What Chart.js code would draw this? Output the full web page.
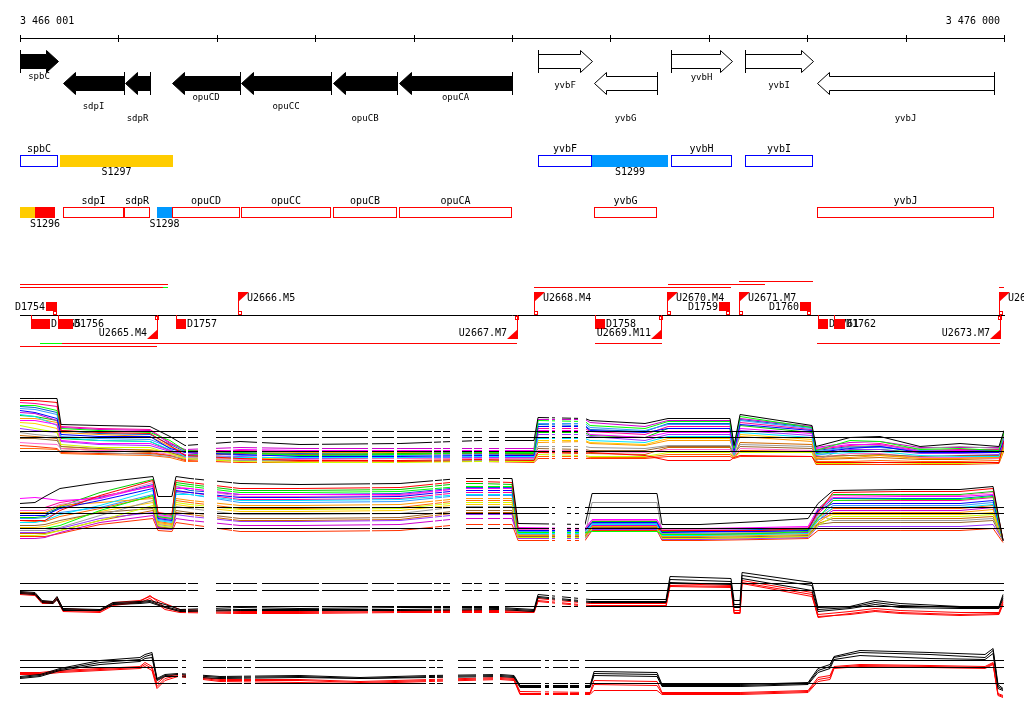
<!DOCTYPE html>
<html><head><meta charset="utf-8">
<script src="https://cdn.jsdelivr.net/npm/chart.js@4.4.0/dist/chart.umd.min.js"></script>
<style>
html,body{margin:0;padding:0;background:#fff;width:1024px;height:714px;overflow:hidden;}
canvas{position:absolute;left:0;}
</style></head><body>
<canvas id="track" width="1024" height="360" style="top:0"></canvas>
<canvas id="pA" width="1024" height="84" style="top:388px"></canvas>
<canvas id="pB" width="1024" height="76" style="top:472px"></canvas>
<canvas id="pC" width="1024" height="60" style="top:565px"></canvas>
<canvas id="pD" width="1024" height="60" style="top:640px"></canvas>
<script>
// ---------- genome window ----------
const X0 = 3466001, X1 = 3476000;
const rulerTicks = [3466001,3467000,3468000,3469000,3470000,3471000,3472000,3473000,3474000,3475000,3476000];
const rulerLabels = ['3 466 001','3 476 000'];

// ---------- genes ----------
const geneNames  = ['spbC','sdpI','sdpR','opuCD','opuCC','opuCB','opuCA','yvbF','yvbG','yvbH','yvbI','yvbJ'];
const geneStart  = [3466001,3466438,3467068,3467545,3468247,3469182,3469852,3471265,3471834,3472616,3473368,3474100];
const geneEnd    = [3466387,3467058,3467322,3468237,3469161,3469832,3471001,3471814,3472474,3473236,3474059,3475899];
const geneStrand = ['+','-','-','-','-','-','-','+','-','+','+','-'];
const geneKnown  = [true,true,true,true,true,true,true,false,false,false,false,false];

// ---------- annotated regions ----------
const annotNames = ['spbC','S1297','yvbF','S1299','yvbH','yvbI','','S1296','sdpI','sdpR','S1298','opuCD','opuCC','opuCB','opuCA','yvbG','yvbJ'];
const annotStart = [3466001,3466407,3471265,3471814,3472616,3473368,3466001,3466153,3466438,3467058,3467393,3467545,3468247,3469182,3469852,3471834,3474100];
const annotEnd   = [3466387,3467556,3471814,3472586,3473236,3474059,3466153,3466357,3467058,3467322,3467545,3468237,3469161,3469832,3471001,3472474,3475899];
const annotKind  = ['gene','orange','gene','blue','gene','gene','orange','red','gene','gene','blue','gene','gene','gene','gene','gene','gene'];
const annotStrand= ['+','+','+','+','+','+','-','-','-','-','-','-','-','-','-','-','-'];

// ---------- transcription units ----------
const tuUpNames  = ['U2666.M5','U2668.M4','U2670.M4','U2671.M7','U2672.M4'];
const tuUpPos    = [3468216,3471224,3472576,3473308,3475949];
const tuDownNames= ['U2665.M4','U2667.M7','U2669.M11','U2673.M7'];
const tuDownPos  = [3467393,3471052,3472515,3475960];
const dNames  = ['D1754','D1759','D1760','D1755','D1756','D1757','D1758','D1761','D1762'];
const dStart  = [3466265,3473104,3473927,3466113,3466387,3467586,3471844,3474110,3474273];
const dEnd    = [3466377,3473216,3474039,3466306,3466540,3467688,3471946,3474212,3474385];
const dStrand = ['+','+','+','-','-','-','-','-','-'];
const spanStart = [3466001,3466001,3467454,3471224,3472586,3473308,3475949,3466204,3466428,3466001,3471844,3474100];
const spanEnd   = [3467505,3467454,3467505,3473226,3473572,3474059,3476000,3466428,3471052,3467393,3472525,3475960];
const spanTier  = [2,1,1,1,2,3,1,-1,-1,-2,-1,-1];
const spanKind  = ['r','r','g','r','r','r','r','g','r','r','r','r'];

// ---------- expression profiles ----------
const probesA = [[3466001,3467678],[3467708,3467800],[3467993,3468135],[3468165,3468399],[3468460,3469029],[3469070,3469527],[3469578,3469791],[3469832,3470178],[3470208,3470269],[3470300,3470361],[3470493,3470584],[3470615,3470686],[3470767,3470858],[3470930,3471366],[3471407,3471427],[3471509,3471590],[3471631,3471661],[3471753,3476000]];
const probesB = [[3466001,3467759],[3467779,3467860],[3468003,3468145],[3468165,3469547],[3469578,3470188],[3470218,3470279],[3470300,3470361],[3470533,3470696],[3470757,3470869],[3470909,3471366],[3471407,3471427],[3471559,3471590],[3471641,3471671],[3471743,3476000]];
const probesD = [[3466001,3467596],[3467647,3467678],[3467860,3468084],[3468104,3468247],[3468277,3468338],[3468389,3470117],[3470157,3470208],[3470239,3470290],[3470452,3470625],[3470706,3470797],[3470879,3471285],[3471336,3471366],[3471417,3471559],[3471590,3471671],[3471743,3476000]];

const refA = [8.2,7.0,4.2];
const refB = [8.2,7.0,4.0];
const refC = [8.4,7.0,3.8];
const refD = [8.0,6.6,3.4];

const xA = [3466001,3466153,3466377,3466418,3466804,3467322,3467525,3467678,3468237,3468846,3469863,3470676,3471224,3471265,3471743,3471794,3472352,3472586,3473216,3473257,3473318,3474049,3474090,3474435,3474740,3475147,3475553,3475949,3476000];
const aBlack  = [14.8,14.8,14.8,9.6,9.4,9.2,7.2,5.4,6.2,5.6,5.8,6.4,6.4,11.0,10.8,10.4,9.8,10.8,10.8,5.4,11.6,9.4,5.2,7.0,7.2,5.2,5.8,5.2,8.4];
const aRed    = [14.4,14.4,14.0,8.4,8.0,7.8,5.4,3.4,2.8,2.4,2.4,2.6,2.4,4.0,3.8,4.0,3.4,2.4,2.4,3.0,3.4,3.2,2.0,2.0,2.0,2.0,2.0,2.0,6.4];
const aLime   = [13.4,13.4,12.4,8.8,8.4,8.0,6.4,4.4,4.0,3.4,3.6,4.0,4.0,10.4,10.2,9.4,8.8,10.2,10.2,4.8,11.2,9.0,4.4,6.4,6.2,4.6,4.8,4.4,8.0];
const aBlue   = [12.4,12.0,10.8,7.6,7.2,7.2,4.8,4.0,3.6,3.2,3.2,3.4,3.4,9.2,9.2,8.4,8.0,8.8,8.8,4.4,9.6,8.4,4.0,4.8,5.2,4.0,4.0,4.0,6.4];
const aMagenta= [10.4,10.4,9.6,6.4,5.8,5.8,4.4,3.6,4.6,4.4,4.4,4.4,4.4,8.4,8.4,7.6,7.0,8.0,8.0,4.0,8.8,7.8,4.8,5.6,5.6,4.2,4.4,4.2,6.0];
const aCyan   = [11.6,11.2,9.4,7.0,6.4,6.2,4.6,3.2,3.0,3.0,3.0,3.2,3.2,6.8,6.8,6.4,6.0,7.2,7.2,3.6,8.0,7.0,3.6,4.0,4.2,3.4,3.2,3.2,5.6];
const aOrange = [10.8,10.8,10.0,8.0,7.6,7.2,5.2,4.0,4.2,4.0,4.0,4.2,4.0,6.0,6.2,5.8,5.4,6.4,6.4,4.4,7.2,6.2,2.8,3.0,3.4,2.8,2.8,3.0,5.2];
const aChart  = [9.4,8.8,8.0,5.6,5.0,5.0,3.8,2.8,2.2,2.0,2.0,2.2,2.2,3.6,3.4,3.2,3.2,4.0,4.0,3.0,4.0,4.0,1.8,1.8,2.0,1.8,1.8,2.0,4.8];
const aGray   = [8.0,7.6,7.2,4.4,4.0,3.6,3.2,2.8,2.4,2.4,2.4,2.4,2.6,5.2,5.2,5.0,4.8,5.4,5.4,3.4,5.6,5.2,2.4,5.2,5.4,4.8,5.2,4.8,6.0];
const aBrown  = [6.8,6.8,6.4,5.2,4.8,4.4,4.0,3.2,3.8,3.6,3.6,3.8,3.6,4.8,4.6,4.4,4.4,5.2,5.2,3.8,5.2,4.8,3.2,3.4,3.6,3.2,3.4,3.4,5.4];
const aSky    = [12.8,12.6,11.6,7.2,6.8,6.6,5.0,4.2,3.4,3.4,3.4,3.6,3.6,9.8,9.8,9.0,8.4,9.6,9.6,4.6,10.4,8.8,4.2,5.0,5.0,4.4,4.2,4.2,6.8];
const aPurple = [8.8,8.4,8.0,6.2,5.6,5.4,4.2,3.4,3.2,2.8,3.0,3.0,3.0,7.6,7.6,7.2,6.4,7.6,7.6,4.2,8.4,7.4,3.4,4.6,4.6,3.8,3.8,3.6,6.2];
const aPink   = [6.0,5.8,5.6,4.8,4.4,4.2,3.6,3.0,2.6,2.6,2.8,2.8,2.8,4.4,4.4,4.2,4.0,4.6,4.6,3.2,4.8,4.4,2.8,3.8,3.8,3.0,3.0,2.8,5.0];
const aViolet = [12.0,11.8,10.4,9.0,8.6,8.4,5.8,4.6,5.0,4.8,4.8,4.8,4.8,10.6,10.6,10.0,9.2,10.4,10.4,5.2,10.8,9.2,5.0,6.0,6.2,5.0,5.0,5.0,7.6];
const aScarlet= [5.4,5.2,4.8,4.0,3.8,3.8,3.4,2.4,2.0,2.0,2.2,2.2,2.0,2.8,2.8,2.8,2.8,3.2,3.2,2.8,3.2,3.2,1.6,1.6,1.6,1.6,1.6,1.8,4.4];
const aGreen  = [11.4,11.2,10.4,6.8,6.4,6.2,4.4,3.6,3.8,3.6,3.8,3.8,3.8,8.0,8.0,7.4,7.0,8.8,8.8,4.2,9.4,8.0,3.8,4.4,4.6,4.0,4.0,4.0,6.4];
const aRose   = [14.0,13.8,13.2,9.2,8.8,8.6,6.0,4.4,4.4,4.2,4.2,4.4,4.2,8.8,8.8,8.2,7.6,9.2,9.2,5.0,10.0,8.6,4.6,5.4,5.8,4.4,4.6,4.6,7.2];
const aGold   = [10.0,9.8,8.8,5.2,4.6,4.6,4.0,3.0,2.8,2.8,2.8,3.0,3.0,6.4,6.4,6.0,5.6,6.8,6.8,3.4,7.6,6.6,3.0,3.4,3.4,3.0,3.0,3.0,5.6];
const aNavy   = [13.2,13.0,12.0,8.4,7.8,7.6,5.6,4.2,4.0,3.8,4.0,4.0,4.0,9.6,9.4,8.6,8.2,9.8,9.8,4.8,10.6,9.0,4.4,5.2,5.2,4.2,4.4,4.4,7.0];
const aTan    = [7.4,7.2,6.8,4.8,4.4,4.0,3.4,2.6,3.0,3.0,3.0,2.8,2.8,4.0,4.0,3.8,3.6,5.0,5.0,3.2,6.0,5.6,2.6,2.8,3.0,2.6,2.6,2.8,5.2];
const aEmber  = [4.8,4.8,4.6,3.8,3.6,3.4,3.0,2.2,2.4,2.2,2.4,2.4,2.4,3.2,3.2,3.0,3.0,3.6,3.6,3.0,4.4,4.2,2.2,2.2,2.4,2.2,2.2,2.4,4.6];

const xB = [3466001,3466153,3466255,3466407,3466814,3467352,3467403,3467545,3467586,3467729,3468237,3468846,3469863,3470472,3470676,3471001,3471062,3471743,3471814,3472474,3472525,3472911,3473521,3474009,3474110,3474263,3474944,3475553,3475889,3475990];
const bBlack  = [9.0,9.2,10.4,12.0,13.2,14.4,10.4,10.4,14.4,14.0,13.0,12.8,13.0,14.0,14.0,14.0,5.0,4.8,11.0,11.0,4.8,4.8,5.4,6.0,9.0,11.6,11.8,11.8,12.4,1.6];
const bRed    = [5.6,5.6,5.6,7.6,10.6,13.6,7.2,6.8,13.6,13.2,12.0,12.0,12.2,13.4,13.4,13.2,4.0,4.0,4.0,4.0,3.6,3.6,3.6,4.0,7.2,11.2,11.4,11.4,12.0,1.6];
const bLime   = [4.0,4.0,4.0,4.6,7.6,10.6,6.4,6.0,12.8,12.4,11.2,11.2,11.4,12.4,12.4,12.4,3.2,3.2,3.4,3.4,2.8,2.8,3.0,3.4,6.0,9.6,9.8,9.8,10.4,1.6];
const bBlue   = [6.6,6.6,6.6,8.0,9.6,12.0,6.0,5.6,11.6,11.2,10.2,10.2,10.4,11.6,11.6,11.6,3.6,3.6,5.2,5.2,3.2,3.4,3.4,3.6,7.6,9.0,9.0,9.0,9.6,1.6];
const bMagenta= [10.0,10.2,10.0,9.6,10.0,12.6,6.8,6.4,12.0,12.0,10.8,10.8,10.8,12.0,12.0,12.0,4.2,4.0,5.8,5.8,4.0,4.0,4.2,4.4,8.0,10.2,10.4,10.4,10.8,1.6];
const bCyan   = [5.2,5.2,5.6,6.8,8.6,11.6,5.6,5.2,10.8,10.8,9.6,9.6,9.8,10.8,10.8,10.8,3.0,3.0,4.8,4.8,2.6,2.6,2.8,3.0,5.6,8.2,8.2,8.2,8.8,1.6];
const bOrange = [7.2,7.2,7.2,8.6,9.2,10.0,5.2,4.8,10.0,9.6,8.6,8.6,8.8,10.0,10.0,10.0,2.6,2.6,4.4,4.4,2.4,2.4,2.6,2.8,5.2,7.2,7.2,7.2,7.8,1.6];
const bChart  = [2.6,2.6,2.8,3.6,5.6,8.6,4.6,4.2,9.2,8.8,7.8,7.8,8.0,9.2,9.2,9.2,2.2,2.2,4.0,4.0,2.0,2.0,2.2,2.4,4.6,6.4,6.4,6.4,6.8,1.6];
const bGray   = [3.6,3.6,3.6,4.2,6.6,9.6,4.8,4.4,8.4,8.0,6.8,6.8,7.0,8.4,8.4,8.4,2.8,2.8,9.2,9.2,3.0,3.0,3.2,3.4,6.8,5.6,5.6,5.6,6.0,1.6];
const bBrown  = [4.6,4.6,4.8,5.6,7.2,8.0,4.4,4.0,7.6,7.2,6.0,6.0,6.2,7.6,7.6,7.6,2.4,2.4,4.2,4.2,2.2,2.2,2.4,2.6,4.8,5.2,5.2,5.2,5.6,1.6];
const bSky    = [6.0,6.0,6.2,7.2,8.2,10.8,5.8,5.4,11.2,10.8,9.2,9.2,9.4,10.6,10.6,10.6,3.4,3.4,5.0,5.0,3.2,3.2,3.4,3.6,6.4,8.6,8.6,8.6,9.2,1.6];
const bPurple = [3.2,3.2,3.2,4.0,6.0,7.2,4.0,3.8,6.8,6.4,5.4,5.4,5.6,6.8,6.8,6.8,2.0,2.0,3.8,3.8,1.8,1.8,2.0,2.2,4.4,4.4,4.4,4.4,4.8,1.6];
const bPink   = [7.6,7.6,7.6,8.8,10.0,13.2,6.6,6.2,12.4,12.0,10.4,10.4,10.6,12.0,12.0,12.0,3.8,3.8,5.6,5.6,3.8,3.8,4.0,4.2,7.4,10.6,10.6,10.6,11.2,1.6];
const bViolet = [2.0,2.0,2.2,3.2,5.2,6.6,4.2,4.0,6.0,5.6,4.6,4.6,4.8,6.0,6.0,6.0,2.4,2.4,4.6,4.6,2.8,2.8,3.0,3.2,5.6,7.6,7.6,7.6,8.2,1.6];
const bScarlet= [2.4,2.4,2.4,3.0,4.8,6.0,3.6,3.4,5.2,4.8,3.4,3.4,3.6,4.8,4.8,4.8,1.6,1.6,3.6,3.6,1.6,1.6,1.8,2.0,3.6,3.6,3.6,3.6,4.0,1.2];
const bGreen  = [6.2,6.2,6.4,8.4,11.2,13.8,7.0,6.6,13.2,12.8,11.6,11.6,11.8,13.0,13.0,12.8,3.8,3.8,5.4,5.4,3.4,3.4,3.6,3.8,7.8,10.8,10.8,10.8,11.4,1.6];
const bRose   = [8.2,8.2,8.2,9.2,10.4,12.4,6.2,5.8,11.4,11.2,9.8,9.8,10.0,11.2,11.2,11.2,3.6,3.6,5.2,5.2,3.4,3.4,3.6,3.8,7.0,9.6,9.6,9.6,10.2,1.6];
const bGold   = [4.2,4.2,4.4,5.2,7.4,9.2,5.0,4.6,8.8,8.4,7.4,7.4,7.6,8.8,8.8,8.8,3.0,3.0,4.6,4.6,2.6,2.6,2.8,3.0,5.8,6.8,6.8,6.8,7.2,1.6];
const bNavy   = [7.0,7.0,7.0,8.2,10.2,12.8,6.4,6.0,12.4,11.6,10.8,10.8,11.0,12.2,12.2,12.2,4.0,4.0,5.6,5.6,3.6,3.6,3.8,4.0,7.4,10.0,10.0,10.0,10.6,1.6];
const bTan    = [3.0,3.0,3.0,3.6,5.6,7.6,4.2,4.0,7.2,6.8,5.6,5.6,5.8,7.2,7.2,7.2,2.2,2.2,4.2,4.2,2.0,2.0,2.2,2.4,5.0,6.0,6.0,6.0,6.4,1.6];
const bEmber  = [5.6,5.4,5.4,6.4,8.0,10.4,5.4,5.0,9.6,9.2,8.0,8.0,8.2,9.6,9.6,9.6,2.8,2.8,4.8,4.8,2.8,2.8,3.0,3.2,6.2,8.0,8.0,8.0,8.6,1.6];

const xC = [3466001,3466153,3466225,3466336,3466377,3466438,3466814,3466946,3467220,3467322,3467474,3467627,3468237,3468846,3469863,3470879,3471224,3471265,3471794,3472566,3472606,3473226,3473257,3473318,3473338,3474049,3474110,3474435,3474690,3474944,3475553,3475949,3475990];
const cBlack1 = [6.8,6.6,5.0,4.8,5.8,3.4,3.2,4.6,4.8,5.0,4.2,3.2,3.6,3.4,3.6,3.6,3.2,6.2,5.2,5.2,9.8,9.4,5.0,5.0,10.6,8.6,3.6,3.8,5.0,4.4,3.8,3.8,6.2];
const cBlack2 = [6.6,6.4,4.8,4.6,5.4,3.2,3.0,4.4,4.6,4.8,3.8,3.0,3.2,3.2,3.2,3.4,3.0,5.8,4.8,4.8,9.2,8.8,4.2,4.2,10.0,8.0,3.2,3.6,4.6,4.0,3.6,3.6,5.8];
const cBlack3 = [6.4,6.2,4.6,4.4,5.2,3.0,3.0,4.2,4.4,4.6,3.6,2.8,3.0,3.0,3.0,3.2,2.8,5.6,4.6,4.6,8.6,8.2,3.6,3.6,9.4,7.0,2.8,3.4,4.2,3.6,3.4,3.4,5.4];
const cRed1   = [6.6,6.4,4.8,4.8,5.6,3.4,3.0,4.6,5.0,5.8,4.4,3.2,2.8,2.8,3.0,3.0,2.8,5.4,4.4,4.4,8.4,8.0,3.0,3.0,9.0,6.6,2.2,2.8,3.4,3.0,2.6,2.6,5.0];
const cRed2   = [6.4,6.2,4.6,4.6,5.4,3.0,2.8,4.2,4.8,6.0,3.6,2.8,2.6,2.6,2.8,2.8,2.6,5.0,4.0,4.0,8.0,7.8,2.4,2.4,8.6,6.2,1.6,2.4,3.0,2.6,2.2,2.4,4.6];
const cRed3   = [6.2,6.0,4.4,4.4,5.2,2.8,2.6,4.0,4.6,5.4,3.2,2.6,2.4,2.4,2.6,2.6,2.6,4.8,3.8,3.8,7.8,7.6,2.6,2.6,8.4,5.8,1.8,2.2,2.8,2.4,2.0,2.2,4.2];

const xD = [3466001,3466204,3466407,3466814,3467220,3467271,3467342,3467393,3467474,3467607,3468033,3468846,3469456,3470167,3470879,3471021,3471082,3471794,3471834,3472474,3472525,3473318,3474009,3474110,3474232,3474273,3474537,3475248,3475807,3475889,3475939,3475990];
const dBlack1 = [4.8,5.2,6.4,8.0,8.6,9.2,9.6,4.4,5.2,5.4,4.8,5.0,4.6,5.0,5.2,5.0,3.0,3.0,5.8,5.6,3.2,3.2,3.6,6.4,7.2,8.8,10.0,9.6,9.2,10.4,3.2,2.4];
const dBlack2 = [4.6,5.0,6.2,7.6,8.2,8.8,9.2,4.2,5.0,5.2,4.6,4.8,4.4,4.8,5.0,4.8,2.8,2.8,5.4,5.2,3.0,3.0,3.4,6.0,6.8,8.6,9.6,9.2,8.6,10.0,2.8,2.2];
const dBlack3 = [4.4,4.8,6.0,7.2,7.8,8.4,8.6,4.0,4.8,4.8,4.4,4.6,4.4,4.6,4.8,4.6,2.6,2.6,5.0,4.8,2.8,2.8,3.2,5.6,6.4,8.2,9.0,8.4,8.2,9.4,2.4,2.0];
const dRed1   = [5.6,5.6,6.0,6.4,6.8,7.6,6.8,3.4,4.8,5.2,4.2,4.2,3.8,4.2,4.6,4.4,1.8,1.6,4.0,3.8,1.6,1.6,2.0,4.6,5.0,6.8,7.2,7.0,6.8,7.6,1.4,1.0];
const dRed2   = [5.4,5.4,5.8,6.2,6.6,7.2,6.4,2.8,4.4,5.0,4.0,4.0,3.6,4.0,4.4,4.2,1.4,1.4,3.2,3.0,1.4,1.4,1.8,4.2,4.6,6.6,7.0,6.8,6.6,7.4,1.2,0.8];
const dRed3   = [5.2,5.2,5.6,6.0,6.4,6.8,6.0,2.4,4.0,4.8,3.8,3.6,3.4,3.8,4.2,4.0,1.2,1.2,2.0,2.0,1.2,1.2,1.6,3.8,4.2,6.4,6.8,6.6,6.4,7.2,1.0,0.6];

// ---------- styles / layout ----------
const C = {red:'#ff0000',lime:'#00ff00',blue:'#0000ff',magenta:'#ff00ff',cyan:'#00e5ff',orange:'#ff9900',chart:'#ccff00',gray:'#999999',brown:'#996633',sky:'#3399ff',purple:'#9933ff',pink:'#ff66cc',violet:'#cc00cc',scarlet:'#ff3300',green:'#00cc00',rose:'#ff0099',gold:'#ffcc00',navy:'#0066cc',tan:'#cc6600',ember:'#ff6600',black:'#000000'};
const MONO = '"DejaVu Sans Mono", monospace';
const GENE_Y = {'+':61,'-':83};
const GENE_LABEL_Y = {spbC:77,sdpI:107,sdpR:119,opuCD:98,opuCC:107,opuCB:119,opuCA:98,yvbF:86,yvbG:119,yvbH:78,yvbI:86,yvbJ:119};
const ANNOT_ROW = {'+':{top:155,h:12,above:149,below:172,gene:'#0000ff'},'-':{top:207,h:11,above:201,below:224,gene:'#ff0000'}};
const ANNOT_FILL = {orange:'#ffcc00',blue:'#0099ff',red:'#ff0000'};
const TIER_Y = {1:287,2:284,3:281,'-1':343,'-2':346};
const AXIS_Y = 315;

function hline(ctx,x1,x2,y){ctx.beginPath();ctx.moveTo(x1,y+0.5);ctx.lineTo(x2,y+0.5);ctx.stroke();}
function vline(ctx,x,y1,y2){ctx.beginPath();ctx.moveTo(x+0.5,y1);ctx.lineTo(x+0.5,y2);ctx.stroke();}

const trackPlugin = {
  id:'genomeTracks',
  afterDraw(chart){
    const ctx = chart.ctx, sx = chart.scales.x;
    const P = v => Math.round(sx.getPixelForValue(v));
    ctx.save();
    ctx.lineWidth = 1;
    ctx.textBaseline = 'middle';
    // ruler
    ctx.strokeStyle = '#000';
    hline(ctx, P(X0), P(X1)+1, 38);
    rulerTicks.forEach(t => vline(ctx, Math.min(P(t), P(X1)), 35, 42));
    ctx.fillStyle = '#000';
    ctx.font = '10px ' + MONO;
    ctx.textAlign = 'left'; ctx.fillText(rulerLabels[0], P(X0), 21);
    ctx.textAlign = 'right'; ctx.fillText(rulerLabels[1], P(X1) - 4, 21);

    // genes
    geneNames.forEach((g,i) => {
      const x1 = P(geneStart[i]), x2 = P(geneEnd[i]), cy = GENE_Y[geneStrand[i]];
      const bh = 7, hh = 11, hl = 12;
      ctx.beginPath();
      if (geneStrand[i] === '+') {
        const hb = Math.max(x1, x2 - hl);
        ctx.moveTo(x1+0.5, cy-bh+0.5); ctx.lineTo(hb+0.5, cy-bh+0.5); ctx.lineTo(hb+0.5, cy-hh+0.5);
        ctx.lineTo(x2+0.5, cy+0.5); ctx.lineTo(hb+0.5, cy+hh+0.5); ctx.lineTo(hb+0.5, cy+bh+0.5);
        ctx.lineTo(x1+0.5, cy+bh+0.5); ctx.closePath();
      } else {
        const hb = Math.min(x2, x1 + hl);
        ctx.moveTo(x2+0.5, cy-bh+0.5); ctx.lineTo(hb+0.5, cy-bh+0.5); ctx.lineTo(hb+0.5, cy-hh+0.5);
        ctx.lineTo(x1+0.5, cy+0.5); ctx.lineTo(hb+0.5, cy+hh+0.5); ctx.lineTo(hb+0.5, cy+bh+0.5);
        ctx.lineTo(x2+0.5, cy+bh+0.5); ctx.closePath();
      }
      ctx.fillStyle = geneKnown[i] ? '#000' : '#fff';
      ctx.fill();
      ctx.strokeStyle = '#000'; ctx.stroke();
      vline(ctx, geneStrand[i] === '+' ? x1 : x2, cy-hh, cy+hh+1);
      ctx.fillStyle = '#000';
      ctx.font = '9px ' + MONO; ctx.textAlign = 'center';
      ctx.fillText(g, (x1+x2)/2, GENE_LABEL_Y[g]);
    });

    // annotated regions
    ctx.font = '10px ' + MONO; ctx.textAlign = 'center';
    annotNames.forEach((n,i) => {
      const row = ANNOT_ROW[annotStrand[i]];
      const x1 = P(annotStart[i]), x2 = P(annotEnd[i]);
      if (annotKind[i] === 'gene') {
        ctx.strokeStyle = row.gene;
        ctx.strokeRect(x1+0.5, row.top+0.5, x2-x1-1, row.h-1);
        ctx.fillStyle = '#000';
        ctx.fillText(n, (x1+x2)/2, row.above);
      } else {
        ctx.fillStyle = ANNOT_FILL[annotKind[i]];
        ctx.fillRect(x1, row.top, x2-x1, row.h);
        if (n) { ctx.fillStyle = '#000'; ctx.fillText(n, (x1+x2)/2, row.below); }
      }
    });

    // transcription-unit track
    ctx.strokeStyle = '#000';
    hline(ctx, P(X0), P(X1)+1, AXIS_Y);
    spanStart.forEach((s,i) => {
      ctx.strokeStyle = spanKind[i] === 'g' ? '#00ff00' : '#ff0000';
      hline(ctx, P(s), P(spanEnd[i]), TIER_Y[spanTier[i]]);
    });
    ctx.font = '10px ' + MONO;
    dNames.forEach((n,i) => {
      const x1 = P(dStart[i]), x2 = P(dEnd[i]);
      ctx.fillStyle = '#ff0000'; ctx.strokeStyle = '#ff0000';
      if (dStrand[i] === '+') {
        ctx.fillRect(x1, 302, x2-x1, 9);
        ctx.strokeRect(x2-3.5, 311.5, 3, 3);
        ctx.fillStyle = '#000'; ctx.textAlign = 'right';
        ctx.fillText(n, x1-1, 307);
      } else {
        ctx.fillRect(x1, 319, x2-x1, 10);
        vline(ctx, x1, AXIS_Y, 319);
        ctx.fillStyle = '#000'; ctx.textAlign = 'left';
        ctx.fillText(n, x2+1, 324);
      }
    });
    tuUpNames.forEach((n,i) => {
      const x = P(tuUpPos[i]);
      ctx.strokeStyle = '#ff0000'; ctx.fillStyle = '#ff0000';
      vline(ctx, x, 292, AXIS_Y);
      ctx.beginPath(); ctx.moveTo(x, 292); ctx.lineTo(x+11, 292); ctx.lineTo(x, 302); ctx.closePath(); ctx.fill();
      ctx.strokeRect(x+0.5, 311.5, 3, 3);
      ctx.fillStyle = '#000'; ctx.textAlign = 'left';
      ctx.fillText(n, x+9, 298);
    });
    tuDownNames.forEach((n,i) => {
      const x = P(tuDownPos[i]);
      ctx.strokeStyle = '#ff0000'; ctx.fillStyle = '#ff0000';
      vline(ctx, x, AXIS_Y, 339);
      ctx.beginPath(); ctx.moveTo(x+1, 329); ctx.lineTo(x+1, 339); ctx.lineTo(x-10, 339); ctx.closePath(); ctx.fill();
      ctx.strokeRect(x-1.5, 316.5, 3, 3);
      ctx.fillStyle = '#000'; ctx.textAlign = 'right';
      ctx.fillText(n, x-10, 333);
    });
    ctx.restore();
  }
};

new Chart(document.getElementById('track'), {
  type:'scatter',
  data:{datasets:[]},
  options:{
    responsive:false, animation:false, devicePixelRatio:1,
    layout:{padding:{left:20,right:20,top:0,bottom:0}},
    plugins:{legend:{display:false},tooltip:{enabled:false}},
    scales:{x:{type:'linear',min:X0,max:X1,display:false},y:{min:0,max:360,display:false}}
  },
  plugins:[trackPlugin]
});

function clipPlugin(probes){
  return {
    id:'probeClip',
    beforeDatasetsDraw(chart){
      const ctx = chart.ctx, sx = chart.scales.x;
      ctx.save(); ctx.beginPath();
      probes.forEach(([s,e]) => {
        const x1 = Math.round(sx.getPixelForValue(s)), x2 = Math.round(sx.getPixelForValue(e));
        ctx.rect(x1, 0, x2-x1+1, chart.height);
      });
      ctx.clip();
    },
    afterDatasetsDraw(chart){ chart.ctx.restore(); }
  };
}

function panel(id, xs, series, refs, probes, ymin, ymax){
  const datasets = [];
  refs.forEach(r => datasets.push({data:[{x:X0,y:r},{x:X1,y:r}], borderColor:'#000', order:0}));
  series.forEach(([vals,color]) => datasets.push({
    data: xs.map((x,i) => ({x, y: vals[i]})),
    borderColor: color, order: color === C.black ? 0 : 1
  }));
  new Chart(document.getElementById(id), {
    type:'line',
    data:{datasets},
    options:{
      responsive:false, animation:false, devicePixelRatio:1,
      layout:{padding:{left:20,right:20,top:0,bottom:0}},
      elements:{point:{radius:0},line:{borderWidth:1,tension:0,fill:false}},
      plugins:{legend:{display:false},tooltip:{enabled:false}},
      scales:{x:{type:'linear',min:X0,max:X1,display:false},y:{min:ymin,max:ymax,display:false}}
    },
    plugins:[clipPlugin(probes)]
  });
}

panel('pA', xA, [[aBlack,C.black],[aRed,C.red],[aLime,C.lime],[aBlue,C.blue],[aMagenta,C.magenta],[aCyan,C.cyan],[aOrange,C.orange],[aChart,C.chart],[aGray,C.gray],[aBrown,C.brown],[aSky,C.sky],[aPurple,C.purple],[aPink,C.pink],[aViolet,C.violet],[aScarlet,C.scarlet],[aGreen,C.green],[aRose,C.rose],[aGold,C.gold],[aNavy,C.navy],[aTan,C.tan],[aEmber,C.ember]], refA, probesA, 0.1, 16.9);
panel('pB', xB, [[bBlack,C.black],[bRed,C.red],[bLime,C.lime],[bBlue,C.blue],[bMagenta,C.magenta],[bCyan,C.cyan],[bOrange,C.orange],[bChart,C.chart],[bGray,C.gray],[bBrown,C.brown],[bSky,C.sky],[bPurple,C.purple],[bPink,C.pink],[bViolet,C.violet],[bScarlet,C.scarlet],[bGreen,C.green],[bRose,C.rose],[bGold,C.gold],[bNavy,C.navy],[bTan,C.tan],[bEmber,C.ember]], refB, probesB, 0.1, 15.3);
panel('pC', xC, [[cBlack1,C.black],[cBlack2,C.black],[cBlack3,C.black],[cRed1,C.red],[cRed2,C.red],[cRed3,C.red]], refC, probesA, 0.1, 12.1);
panel('pD', xD, [[dBlack1,C.black],[dBlack2,C.black],[dBlack3,C.black],[dRed1,C.red],[dRed2,C.red],[dRed3,C.red]], refD, probesD, 0.1, 12.1);
</script>
</body></html>
